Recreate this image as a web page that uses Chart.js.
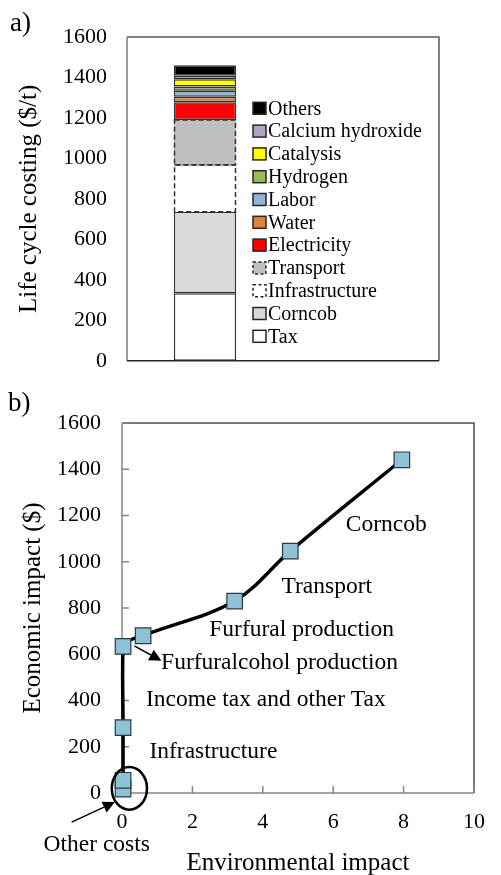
<!DOCTYPE html>
<html>
<head>
<meta charset="utf-8">
<script src="https://cdn.jsdelivr.net/npm/chart.js@4.4.1/dist/chart.umd.min.js"></script>
<style>
  body { margin: 0; background: #fff; }
  #wrap { position: relative; width: 501px; height: 875px; overflow: hidden; }
  canvas { position: absolute; left: 0; }
  #costChart { top: 0; }
  #impactChart { top: 380px; }
  .panel { position: absolute; font-family: "Liberation Serif", "Times New Roman", serif; font-size: 27px; line-height: 1; color: #000; }
</style>
</head>
<body>
<div id="wrap">
  <canvas id="costChart" width="501" height="394"></canvas>
  <canvas id="impactChart" width="501" height="495"></canvas>
  <div class="panel" style="left:10px; top:9px;">a)</div>
  <div class="panel" style="left:8px; top:389px;">b)</div>
</div>
<script>
// a) life cycle costing, one stacked bar
const costCategories = ['', ' '];
const costItems = ['Tax', 'Corncob', 'Infrastructure', 'Transport', 'Electricity', 'Water', 'Labor', 'Hydrogen', 'Catalysis', 'Calcium hydroxide', 'Others'];
const costValues = [334, 403, 231, 222, 88, 27, 30, 20, 36, 18, 51];
const costColors = ['#ffffff', '#d9d9d9', '#ffffff', '#bfbfbf', '#ff0000', '#dd8340', '#95b3d7', '#9bbb59', '#ffff00', '#b3a2c7', '#000000'];
const dashedItems = ['Infrastructure', 'Transport'];

// b) economic vs environmental impact
const envImpact = [0.03, 0.03, 0.03, 0.03, 0.6, 3.2, 4.78, 7.95];
const econImpact = [17, 55, 283, 634, 680, 830, 1046, 1441];

const noteTexts = ['Corncob', 'Transport', 'Furfural production', 'Furfuralcohol production', 'Income tax and other Tax', 'Infrastructure', 'Other costs'];
const noteX = [6.36, 4.53, 2.48, 1.11, 0.68, 0.78, -2.23];
const noteY = [1161, 892, 706, 562, 402, 177, -226];

const arrowFromX = [0.35, -1.43];
const arrowFromY = [636, -126];
const arrowToX = [1.12, -0.2];
const arrowToY = [572, -39];

const circleX = 0.21, circleY = 20, circleRx = 0.5, circleRy = 92;

const serif = '"Liberation Serif", "Times New Roman", serif';
Chart.defaults.font.family = serif;
Chart.defaults.color = '#000';

const plain = v => String(v);

const frame = {
  id: 'frame',
  beforeDatasetsDraw(chart, args, opts) {
    const a = chart.chartArea, ctx = chart.ctx;
    ctx.save();
    ctx.lineWidth = 1.5;
    ctx.strokeStyle = opts.edge;
    ctx.beginPath();
    ctx.moveTo(a.left, a.top); ctx.lineTo(a.right, a.top); ctx.lineTo(a.right, a.bottom);
    ctx.stroke();
    ctx.strokeStyle = opts.axis;
    ctx.beginPath();
    ctx.moveTo(a.left, a.top); ctx.lineTo(a.left, a.bottom);
    ctx.stroke();
    ctx.strokeStyle = opts.base;
    ctx.beginPath();
    ctx.moveTo(a.left, a.bottom); ctx.lineTo(a.right, a.bottom);
    ctx.stroke();
    if (opts.ticks) {
      const xs = chart.scales.x, ys = chart.scales.y;
      ctx.strokeStyle = opts.axis;
      ctx.beginPath();
      ys.ticks.forEach(t => {
        const py = ys.getPixelForValue(t.value);
        ctx.moveTo(a.left, py); ctx.lineTo(a.left + 7, py);
      });
      xs.ticks.forEach(t => {
        const px = xs.getPixelForValue(t.value);
        ctx.moveTo(px, a.bottom); ctx.lineTo(px, a.bottom - 7);
      });
      ctx.stroke();
    }
    ctx.restore();
  }
};

const dashedBars = {
  id: 'dashedBars',
  afterDatasetsDraw(chart) {
    const ctx = chart.ctx;
    ctx.save();
    ctx.strokeStyle = '#333';
    ctx.lineWidth = 1.5;
    ctx.setLineDash([5, 3]);
    chart.data.datasets.forEach((ds, i) => {
      if (!dashedItems.includes(ds.label)) return;
      const el = chart.getDatasetMeta(i).data[0];
      const p = el.getProps(['x', 'y', 'base', 'width'], true);
      ctx.strokeRect(p.x - p.width / 2 + 0.75, p.y, p.width - 1.5, p.base - p.y);
    });
    ctx.restore();
  }
};

const sideLegend = {
  id: 'sideLegend',
  afterDraw(chart) {
    const a = chart.chartArea, ctx = chart.ctx;
    const items = chart.data.datasets.slice().reverse();
    ctx.save();
    ctx.font = '20px ' + serif;
    ctx.textBaseline = 'middle';
    ctx.textAlign = 'left';
    items.forEach((ds, i) => {
      const cy = a.top + 71.3 + i * 22.8;
      const sx = a.left + 126;
      ctx.fillStyle = ds.backgroundColor;
      ctx.fillRect(sx, cy - 6, 13, 12);
      ctx.strokeStyle = '#262626';
      ctx.lineWidth = 1.5;
      ctx.setLineDash(dashedItems.includes(ds.label) ? [3, 2.5] : []);
      ctx.strokeRect(sx, cy - 6, 13, 12);
      ctx.setLineDash([]);
      ctx.fillStyle = '#000';
      ctx.fillText(ds.label, a.left + 141, cy + 1);
    });
    ctx.restore();
  }
};

const notes = {
  id: 'notes',
  afterDraw(chart) {
    const xs = chart.scales.x, ys = chart.scales.y, ctx = chart.ctx;
    ctx.save();
    ctx.fillStyle = '#000';
    ctx.font = '23.5px ' + serif;
    ctx.textAlign = 'left';
    ctx.textBaseline = 'middle';
    noteTexts.forEach((t, i) => {
      ctx.fillText(t, xs.getPixelForValue(noteX[i]), ys.getPixelForValue(noteY[i]));
    });
    ctx.strokeStyle = '#000';
    ctx.lineWidth = 1.5;
    arrowFromX.forEach((fx, i) => {
      const x1 = xs.getPixelForValue(fx), y1 = ys.getPixelForValue(arrowFromY[i]);
      const x2 = xs.getPixelForValue(arrowToX[i]), y2 = ys.getPixelForValue(arrowToY[i]);
      const ang = Math.atan2(y2 - y1, x2 - x1);
      const hl = 12, hw = 6;
      const bx = x2 - hl * Math.cos(ang), by = y2 - hl * Math.sin(ang);
      ctx.beginPath();
      ctx.moveTo(x1, y1); ctx.lineTo(bx, by);
      ctx.stroke();
      ctx.beginPath();
      ctx.moveTo(x2, y2);
      ctx.lineTo(bx + hw * Math.sin(ang), by - hw * Math.cos(ang));
      ctx.lineTo(bx - hw * Math.sin(ang), by + hw * Math.cos(ang));
      ctx.closePath();
      ctx.fill();
    });
    const cx = xs.getPixelForValue(circleX), cy = ys.getPixelForValue(circleY);
    const rx = xs.getPixelForValue(circleX + circleRx) - cx;
    const ry = cy - ys.getPixelForValue(circleY + circleRy);
    ctx.lineWidth = 2.5;
    ctx.beginPath();
    ctx.ellipse(cx, cy, rx, ry, 0, 0, Math.PI * 2);
    ctx.stroke();
    ctx.restore();
  }
};

new Chart(document.getElementById('costChart'), {
  type: 'bar',
  data: {
    labels: costCategories,
    datasets: costItems.map((name, i) => ({
      label: name,
      data: [costValues[i], null],
      backgroundColor: costColors[i],
      borderColor: '#333',
      borderWidth: dashedItems.includes(name) ? 0 : 1.5,
      borderSkipped: false,
      stack: 'cost',
      barPercentage: 0.8,
      categoryPercentage: 0.5
    }))
  },
  options: {
    responsive: false,
    animation: false,
    layout: { padding: { top: 37, right: 62, bottom: 0, left: 0 } },
    plugins: {
      legend: { display: false },
      tooltip: { enabled: false },
      frame: { edge: '#595959', axis: '#7f7f7f', base: '#262626', ticks: false }
    },
    scales: {
      x: { display: false, stacked: true },
      y: {
        stacked: true,
        min: 0, max: 1600,
        ticks: { stepSize: 200, padding: 20, font: { size: 22 }, callback: plain },
        grid: { display: false, drawTicks: false },
        border: { display: false },
        title: { display: true, text: 'Life cycle costing ($/t)', font: { size: 25 }, padding: { top: 14, bottom: 0 } },
        afterFit(scale) { scale.width = 127; }
      }
    }
  },
  plugins: [frame, dashedBars, sideLegend]
});

new Chart(document.getElementById('impactChart'), {
  type: 'scatter',
  data: {
    datasets: [{
      data: envImpact.map((x, i) => ({ x: x, y: econImpact[i] })),
      showLine: true,
      borderColor: '#000',
      borderWidth: 3.5,
      tension: 0.35,
      pointStyle: 'rect',
      pointRadius: 11,
      pointBackgroundColor: '#8dc3d5',
      pointBorderColor: '#2b3a42',
      pointBorderWidth: 1.2,
      clip: false
    }]
  },
  options: {
    responsive: false,
    animation: false,
    layout: { padding: { top: 43, right: 13, bottom: 0, left: 0 } },
    plugins: {
      legend: { display: false },
      tooltip: { enabled: false },
      frame: { edge: '#4d4d4d', axis: '#868686', base: '#868686', ticks: true }
    },
    scales: {
      x: {
        type: 'linear',
        min: 0, max: 10,
        ticks: { stepSize: 2, padding: 16, font: { size: 22 }, callback: plain },
        grid: { display: false, drawTicks: false },
        border: { display: false },
        title: { display: true, text: 'Environmental impact', font: { size: 25 }, padding: { top: 0, bottom: -3 } },
        afterFit(scale) { scale.height = 82; }
      },
      y: {
        min: 0, max: 1600,
        ticks: { stepSize: 200, padding: 21, font: { size: 22 }, callback: plain },
        grid: { display: false, drawTicks: false },
        border: { display: false },
        title: { display: true, text: 'Economic impact ($)', font: { size: 25 }, padding: { top: 18, bottom: 0 } },
        afterFit(scale) { scale.width = 122; }
      }
    }
  },
  plugins: [frame, notes]
});
</script>
</body>
</html>
